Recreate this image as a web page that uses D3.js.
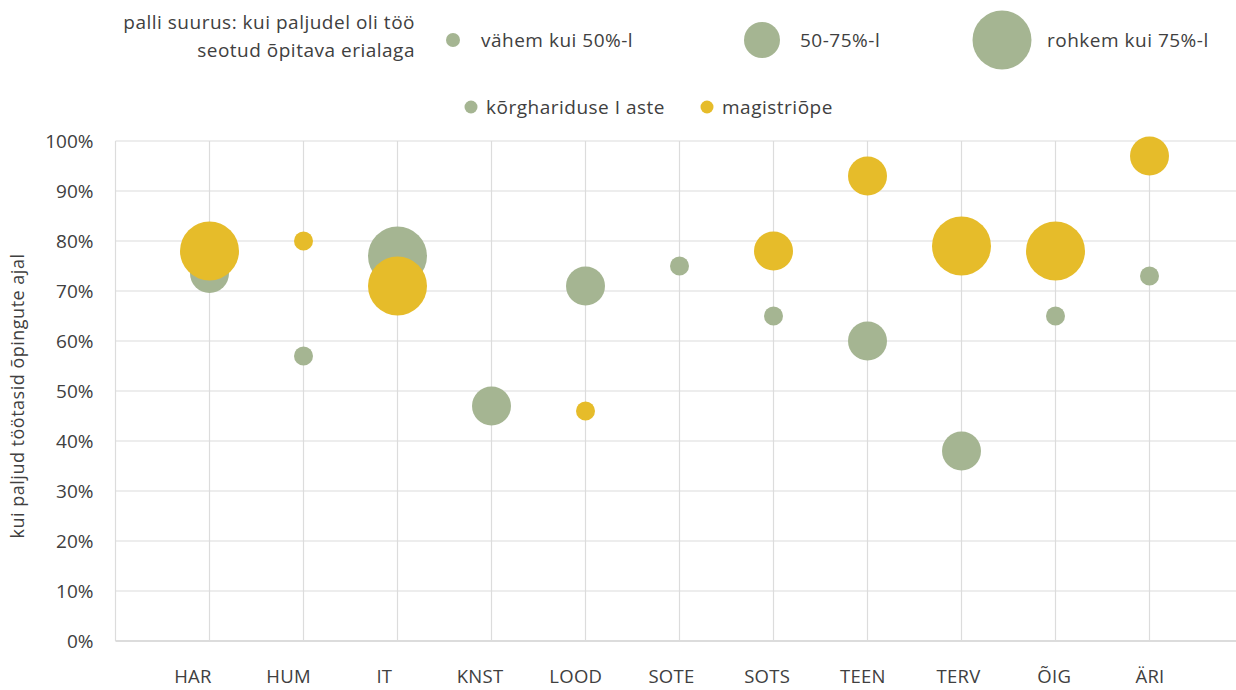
<!DOCTYPE html>
<html>
<head>
<meta charset="utf-8">
<script src="https://cdn.jsdelivr.net/npm/d3@7"></script>
<style>
  body { margin: 0; background: #fff; }
  text { font-family: "Open Sans", sans-serif; fill: #404040; }
</style>
</head>
<body>
<svg id="chart" width="1236" height="690"></svg>
<script>
// categories (x) and tick labels
const categories = ["HAR", "HUM", "IT", "KNST", "LOOD", "SOTE", "SOTS", "TEEN", "TERV", "ÕIG", "ÄRI"];
const yTicks = [0, 0.1, 0.2, 0.3, 0.4, 0.5, 0.6, 0.7, 0.8, 0.9, 1];

// kõrghariduse I aste: share working while studying, size class (1 <50%, 2 50-75%, 3 >75%)
const bachelorValues = [0.735, 0.57, 0.77, 0.47, 0.71, 0.75, 0.65, 0.60, 0.38, 0.65, 0.73];
const bachelorSizes = [2, 1, 3, 2, 2, 1, 1, 2, 2, 1, 1];

// magistriõpe (null = no data)
const masterValues = [0.78, 0.80, 0.71, null, 0.46, null, 0.78, 0.93, 0.79, 0.78, 0.97];
const masterSizes = [3, 1, 3, null, 1, null, 2, 2, 3, 3, 2];

const sizeLabels = ["vähem kui 50%-l", "50-75%-l", "rohkem kui 75%-l"];
const seriesNames = ["kõrghariduse I aste", "magistriõpe"];
const seriesColors = ["#a5b592", "#e6bc2a"];

const svg = d3.select("#chart");
const margin = { top: 141, left: 115.5, bottom: 641 };

const x = d3.scaleLinear().domain([0, 12]).range([margin.left, margin.left + 12 * 94]);
const y = d3.scaleLinear().domain([0, 1]).range([margin.bottom, margin.top]);
const xLabel = d3.scalePoint().domain(categories).range([193, 1150]);
const r = d3.scaleOrdinal().domain([1, 2, 3]).range([9.5, 19.5, 29.5]);
const rLegend = d3.scaleOrdinal().domain([1, 2, 3]).range([7, 18, 29.5]);

const legendFont = "19px";

// grid
const grid = svg.append("g");
grid.selectAll("line.h")
  .data(yTicks)
  .join("line")
  .attr("class", "h")
  .attr("x1", x(0)).attr("x2", 1236)
  .attr("y1", d => y(d)).attr("y2", d => y(d))
  .attr("stroke", d => d === 0 ? "#d0d0d0" : "#dcdcdc")
  .attr("stroke-width", d => d === 0 ? 1.6 : 1.2);
grid.selectAll("line.v")
  .data(d3.range(0, 12))
  .join("line")
  .attr("class", "v")
  .attr("x1", d => x(d)).attr("x2", d => x(d))
  .attr("y1", y(1)).attr("y2", y(0))
  .attr("stroke", "#dcdcdc")
  .attr("stroke-width", 1.2);

// y axis labels
const gy = svg.append("g").attr("transform", `translate(${x(0) - 22},0)`);
gy.call(d3.axisLeft(y).tickValues(yTicks).tickFormat(d3.format(".0%")).tickSize(0))
  .call(g => g.select(".domain").remove())
  .call(g => g.selectAll("text")
    .attr("x", 0)
    .attr("dy", "0.35em")
    .style("font-family", "'Open Sans', sans-serif")
    .style("font-size", "19px")
    .attr("fill", "#595959"));

// x labels
svg.append("g")
  .selectAll("text")
  .data(categories)
  .join("text")
  .attr("x", d => xLabel(d))
  .attr("y", 683)
  .attr("text-anchor", "middle")
  .style("font-size", "18.5px")
  .style("letter-spacing", "0.3px")
  .attr("fill", "#595959")
  .text(d => d);

// y title
svg.append("text")
  .attr("transform", `translate(24,${(y(0) + y(1)) / 2 + 5}) rotate(-90)`)
  .attr("text-anchor", "middle")
  .style("font-size", "18px")
  .style("letter-spacing", "0.5px")
  .text("kui paljud töötasid õpingute ajal");

// bubbles
const series = [
  { values: bachelorValues, sizes: bachelorSizes, color: seriesColors[0] },
  { values: masterValues, sizes: masterSizes, color: seriesColors[1] },
];
series.forEach(s => {
  const pts = categories
    .map((c, i) => ({ i, v: s.values[i], size: s.sizes[i] }))
    .filter(d => d.v != null);
  svg.append("g")
    .selectAll("circle")
    .data(pts)
    .join("circle")
    .attr("cx", d => x(d.i + 1))
    .attr("cy", d => y(d.v))
    .attr("r", d => r(d.size))
    .attr("fill", s.color);
});

// size legend
const lg = svg.append("g")
  .style("font-size", legendFont)
  .style("letter-spacing", "0.5px");
lg.append("text")
  .attr("x", 415).attr("y", 29)
  .attr("text-anchor", "end")
  .text("palli suurus: kui paljudel oli töö");
lg.append("text")
  .attr("x", 415).attr("y", 57)
  .attr("text-anchor", "end")
  .text("seotud õpitava erialaga");

const sizeLegendCx = [453, 762, 1002];
const sizeLegendTx = [481, 800, 1047];
sizeLabels.forEach((lab, i) => {
  lg.append("circle")
    .attr("cx", sizeLegendCx[i]).attr("cy", 40)
    .attr("r", rLegend(i + 1))
    .attr("fill", seriesColors[0]);
  lg.append("text")
    .attr("x", sizeLegendTx[i]).attr("y", 47)
    .text(lab);
});

// series legend
const serLegendCx = [471, 707];
seriesNames.forEach((name, i) => {
  lg.append("circle")
    .attr("cx", serLegendCx[i]).attr("cy", 107)
    .attr("r", 6.5)
    .attr("fill", seriesColors[i]);
  lg.append("text")
    .attr("x", serLegendCx[i] + 15).attr("y", 114)
    .text(name);
});
</script>
</body>
</html>
